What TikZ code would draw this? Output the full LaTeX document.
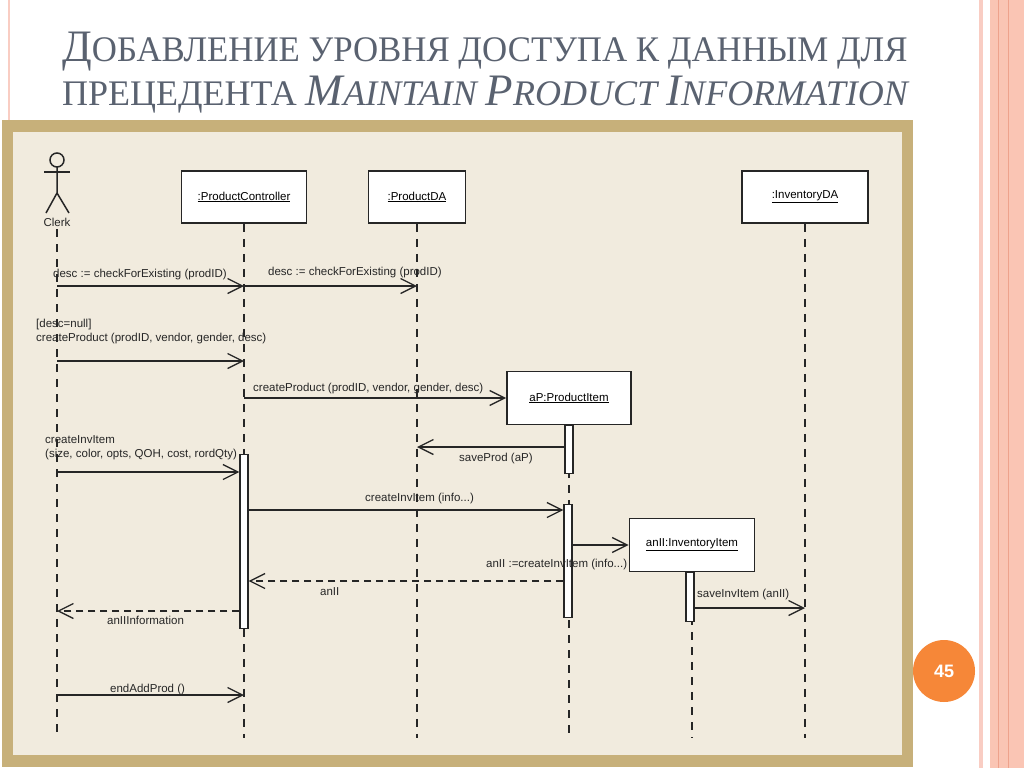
\documentclass[tikz,border=0pt]{standalone}
\usepackage{fontspec}
\setmainfont{Liberation Serif}
\setsansfont{Liberation Sans}
\usepackage{tikz}
\usetikzlibrary{calc,shapes,arrows,arrows.meta}

\definecolor{frametan}{RGB}{199,176,122}
\definecolor{paper}{RGB}{241,235,222}
\definecolor{titlegray}{RGB}{90,98,112}
\definecolor{slideorange}{RGB}{246,135,56}
\definecolor{stripe}{RGB}{250,197,180}
\definecolor{stripedark}{RGB}{238,162,140}
\definecolor{stripelight}{RGB}{249,205,195}
\definecolor{inkgray}{RGB}{38,38,38}

\newcommand{\capsz}{\fontsize{45}{50}\selectfont}
\newcommand{\scsz}{\fontsize{36}{40}\selectfont}

\tikzset{
    lifeline/.style={draw=inkgray, line width=2.2pt, dash pattern=on 8pt off 7pt},
    objbox/.style={draw=inkgray, line width=1.8pt, fill=white, minimum height=52pt,
        inner sep=0pt, font=\sffamily\fontsize{11.5}{13}\selectfont},
    actbar/.style={draw=inkgray, line width=1.2pt, fill=white, minimum width=8pt,
        inner sep=0pt, anchor=north},
    msg/.style={draw=inkgray, line width=1.3pt,
        -{Straight Barb[length=15pt,width=15pt,line width=1.3pt]}},
    reply/.style={msg, dash pattern=on 7pt off 5pt},
    msgtext/.style={font=\sffamily\fontsize{11.5}{14}\selectfont, text=inkgray,
        inner sep=0pt, anchor=base west, align=left},
    titletext/.style={text=titlegray, inner sep=0pt, anchor=base west, font=\scsz}
}

\begin{document}
\begin{tikzpicture}[x=1pt,y=-1pt]
    \useasboundingbox (0,0) rectangle (1024,768);
    \fill[white] (0,0) rectangle (1024,768);
    \fill[stripelight] (8,0) rectangle (10,120);
    \fill[stripelight] (979,0) rectangle (983,768);
    \fill[stripe] (990,0) rectangle (1024,768);
    \foreach \x in {998,1008}
        \draw[stripedark, line width=1pt] (\x,0) -- (\x,768);

    \node[titletext] (title1) at (62,62)
        {\scalebox{0.967}[1]{{\capsz Д}ОБАВЛЕНИЕ УРОВНЯ ДОСТУПА К ДАННЫМ ДЛЯ}};
    \node[titletext] (title2) at (62,105)
        {ПРЕЦЕДЕНТА \textit{{\capsz M}AINTAIN {\capsz P}RODUCT {\capsz I}NFORMATION}};

    \fill[frametan] (2,120) rectangle (913,767);
    \fill[paper] (13,132) rectangle (902,755);

    \node[circle, fill=slideorange, minimum size=62pt, inner sep=0pt, text=white,
        font=\sffamily\bfseries\fontsize{18}{20}\selectfont] (pagenum) at (944,671) {45};

    \draw[inkgray, line width=1.5pt] (57,160) circle[radius=7pt];
    \draw[inkgray, line width=1.5pt] (44,172) -- (70,172);
    \draw[inkgray, line width=1.5pt] (57,167) -- (57,193) -- (46,213);
    \draw[inkgray, line width=1.5pt] (57,193) -- (69,213);
    \node[font=\sffamily\fontsize{11.5}{13}\selectfont, text=inkgray, inner sep=0pt]
        (clerk) at (57,222) {Clerk};
    \coordinate (clerkln) at (57,229);

    \node[objbox, minimum width=125pt] (pc) at (244,197) {\underline{:ProductController}};
    \node[objbox, minimum width=97pt] (pda) at (417,197) {\underline{:ProductDA}};
    \node[objbox, minimum width=126pt] (ida) at (805,197) {\underline{:InventoryDA}};
    \node[objbox, minimum width=124pt, minimum height=53pt] (ap) at (569,398)
        {\underline{aP:ProductItem}};
    \node[objbox, minimum width=125pt, minimum height=53pt] (ii) at (692,545)
        {\underline{anII:InventoryItem}};

    \draw[lifeline] (clerkln) -- (clerkln |- 0,738);
    \foreach \obj in {pc,pda,ap,ii,ida}
        \draw[lifeline] (\obj.south) -- (\obj.south |- 0,738);

    \node[actbar, minimum height=174pt] (pcact) at (244,454) {};
    \node[actbar, minimum height=48pt] (apact1) at (569,425) {};
    \node[actbar, minimum height=113pt] (apact2) at (568,504) {};
    \node[actbar, minimum height=49pt] (iiact) at (690,572) {};

    \draw[msg] (clerkln |- 0,286) -- (pc.south |- 0,286);
    \draw[msg] (pc.south |- 0,286) -- (pda.south |- 0,286);
    \draw[msg] (clerkln |- 0,361) -- (pc.south |- 0,361);
    \draw[msg] (pc.south |- ap.west) -- (ap.west);
    \draw[msg] (apact1.west |- 0,447) -- (pda.south |- 0,447);
    \draw[msg] (clerkln |- 0,472) -- (pcact.west |- 0,472);
    \draw[msg] (pcact.east |- 0,510) -- (apact2.west |- 0,510);
    \draw[msg] (apact2.east |- ii.west) -- (ii.west);
    \draw[reply] (apact2.west |- 0,581) -- (pcact.east |- 0,581);
    \draw[reply] (pcact.west |- 0,611) -- (clerkln |- 0,611);
    \draw[msg] (iiact.east |- 0,608) -- (ida.south |- 0,608);
    \draw[msg] (clerkln |- 0,695) -- (pc.south |- 0,695);

    \node[msgtext] (l1) at (53,277) {desc := checkForExisting (prodID)};
    \node[msgtext] (l2) at (268,275) {desc := checkForExisting (prodID)};
    \node[msgtext] (l3) at (36,341) {[desc=null]\\createProduct (prodID, vendor, gender, desc)};
    \node[msgtext] (l4) at (253,391) {createProduct (prodID, vendor, gender, desc)};
    \node[msgtext] (l5) at (459,461) {saveProd (aP)};
    \node[msgtext] (l6) at (45,457) {createInvItem\\(size, color, opts, QOH, cost, rordQty)};
    \node[msgtext] (l7) at (365,501) {createInvItem (info...)};
    \node[msgtext] (l8) at (486,567) {anII :=createInvItem (info...)};
    \node[msgtext] (l9) at (320,595) {anII};
    \node[msgtext] (l10) at (107,624) {anIIInformation};
    \node[msgtext] (l11) at (697,597) {saveInvItem (anII)};
    \node[msgtext] (l12) at (110,692) {endAddProd ()};
\end{tikzpicture}
\end{document}
